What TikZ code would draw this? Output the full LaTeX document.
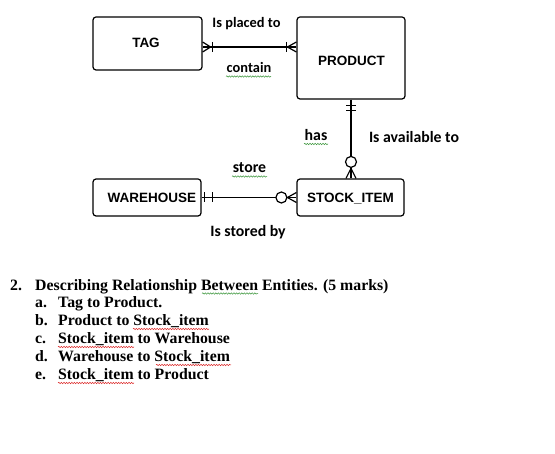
\documentclass[tikz,border=0pt]{standalone}
\usepackage{fontspec}
\setmainfont{Liberation Serif}
\newfontfamily\ariafont{Liberation Sans}
\newfontfamily\califont{Carlito}
\usetikzlibrary{calc,decorations.pathmorphing}
\definecolor{squiggreen}{RGB}{60,150,60}
\definecolor{squigred}{RGB}{220,40,40}
\begin{document}
\begin{tikzpicture}[x=1pt,y=-1pt,
  entity/.style={draw,line width=1.2pt,rounded corners=3pt,inner sep=0pt},
  enttext/.style={font=\ariafont\bfseries\fontsize{13.5}{16}\selectfont,anchor=base,inner sep=0pt},
  rel/.style={font=\califont\bfseries\fontsize{14.4}{16}\selectfont,anchor=base,inner sep=0pt},
  relbig/.style={font=\califont\bfseries\fontsize{15.8}{18}\selectfont,anchor=base,inner sep=0pt},
  conn/.style={line width=1.2pt},
  squig/.style={decorate,decoration={snake,amplitude=0.7pt,segment length=2.6pt},line width=0.5pt},
  listtext/.style={font=\bfseries\fontsize{15.8}{18}\selectfont,anchor=base west,inner sep=0pt}
]
\useasboundingbox (0,0) rectangle (555,454);

% entities
\node[entity,minimum width=109pt,minimum height=53pt] (tag) at (147.5,43.5) {};
\node[entity,minimum width=108pt,minimum height=82pt] (product) at (351,58) {};
\node[entity,minimum width=107pt,minimum height=37pt] (stock) at (350.5,197.5) {};
\node[entity,minimum width=108pt,minimum height=37pt] (warehouse) at (147,197.5) {};

\node[enttext] (tagtxt) at (146,47.3) {TAG};
\node[enttext] (producttxt) at (351.5,66) {PRODUCT};
\node[enttext] (stocktxt) at (350.5,202.7) {STOCK\_ITEM};
\node[enttext] (warehousetxt) at (152,202.7) {WAREHOUSE};

% relationship labels
\node[rel] (placed) at (246.5,28) {Is placed to};
\node[rel] (contain) at (249,72.5) {contain};
\node[relbig] (has) at (316,140.7) {has};
\node[relbig] (avail) at (414,142.7) {Is available to};
\node[relbig] (store) at (249.5,172.7) {store};
\node[relbig] (storedby) at (248,236.7) {Is stored by};

% TAG -- PRODUCT
\coordinate (r1) at (0,47);
\draw[conn] (tag.east |- r1) -- (product.west |- r1);
\draw[conn] ($(tag.east |- r1)+(0,-5)$) -- ($(tag.east |- r1)+(8,0)$) -- ($(tag.east |- r1)+(0,5)$);
\draw[conn] ($(tag.east |- r1)+(10,-5)$) -- ++(0,10);
\draw[conn] ($(product.west |- r1)+(0,-5)$) -- ($(product.west |- r1)+(-9,0)$) -- ($(product.west |- r1)+(0,5)$);
\draw[conn] ($(product.west |- r1)+(-10,-5)$) -- ++(0,10);

% PRODUCT -- STOCK_ITEM
\draw[conn] (product.south) -- (product.south |- stock.north);
\draw[conn] ($(product.south)+(-5,6)$) -- ++(10,0);
\draw[conn] ($(product.south)+(-5,11)$) -- ++(10,0);
\draw[conn] ($(product.south |- stock.north)+(-5,0)$) -- ($(product.south |- stock.north)+(0,-10)$) -- ($(product.south |- stock.north)+(5,0)$);
\draw[conn,fill=white] ($(product.south |- stock.north)+(0,-16.5)$) circle (5.5);

% WAREHOUSE -- STOCK_ITEM
\draw[conn] (warehouse.east) -- (stock.west);
\draw[conn] ($(warehouse.east)+(3,-5)$) -- ++(0,10);
\draw[conn] ($(warehouse.east)+(10.5,-5)$) -- ++(0,10);
\draw[conn] ($(stock.west)+(0,-5)$) -- ($(stock.west)+(-9,0)$) -- ($(stock.west)+(0,5)$);
\draw[conn,fill=white] ($(stock.west)+(-15,0)$) circle (5.5);

% squiggles under labels
\draw[squig,squiggreen] (226,76.5) -- (271,76.5);
\draw[squig,squiggreen] (304,144) -- (328,144);
\draw[squig,squiggreen] (232,176.5) -- (267,176.5);

% question text
\node[listtext] (qnum) at (10,290.7) {2.};
\node[listtext] (qtext) at (35,290.7) {Describing Relationship Between Entities. (5 marks)};
\node[listtext] (la) at (35,307.7) {a.};
\node[listtext] (ta) at (58,307.7) {Tag to Product.};
\node[listtext] (lb) at (35,326) {b.};
\node[listtext] (tb) at (58,326) {Product to Stock\_item};
\node[listtext] (lc) at (35,344) {c.};
\node[listtext] (tc) at (58,344) {Stock\_item to Warehouse};
\node[listtext] (ld) at (35,361.7) {d.};
\node[listtext] (td) at (58,361.7) {Warehouse to Stock\_item};
\node[listtext] (le) at (35,380) {e.};
\node[listtext] (te) at (58,380) {Stock\_item to Product};

\draw[squig,squiggreen] (202,293.5) -- (258,293.5);
\draw[squig,squigred] (133,329) -- (209,329);
\draw[squig,squigred] (58,347) -- (134,347);
\draw[squig,squigred] (156,365) -- (231,365);
\draw[squig,squigred] (58,383) -- (134,383);
\end{tikzpicture}
\end{document}
